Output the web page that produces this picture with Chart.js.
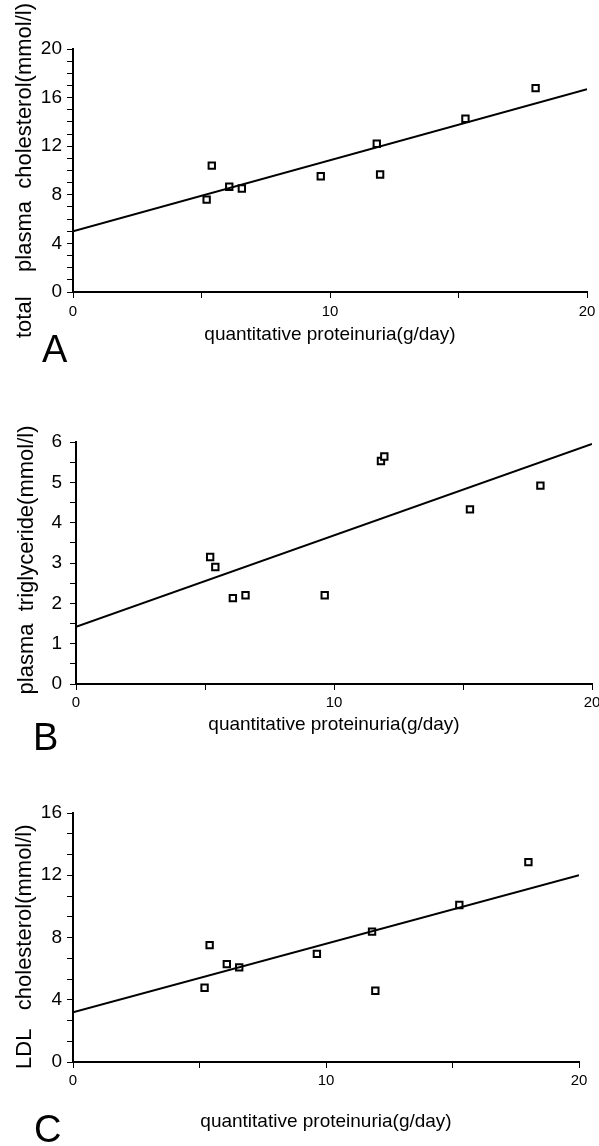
<!DOCTYPE html>
<html lang="en">
<head>
<meta charset="UTF-8">
<title>Proteinuria vs plasma lipids</title>
<script src="https://cdn.jsdelivr.net/npm/chart.js"></script>
<style>
  body { margin: 0; background: #fff; width: 599px; height: 1146px; overflow: hidden; position: relative; }
  canvas { position: absolute; left: 0; }
  .tag { position: absolute; font-family: "Liberation Sans", Arial, sans-serif; font-size: 38px; line-height: 1; color: #000; }
</style>
</head>
<body>
<canvas id="chartA" width="599" height="346" style="top:0px"></canvas>
<canvas id="chartB" width="599" height="356" style="top:380px"></canvas>
<canvas id="chartC" width="599" height="373" style="top:760px"></canvas>
<div class="tag" style="left:42px;top:330px">A</div>
<div class="tag" style="left:33px;top:718px">B</div>
<div class="tag" style="left:34px;top:1110px">C</div>

<script>
// quantitative proteinuria (g/day), same nine patients in every panel
const proteinuria = [5.2, 5.4, 6.08, 6.57, 9.64, 11.82, 11.95, 15.27, 18.0];
// panel values, mmol/l
const totalChol = [7.6, 10.4, 8.66, 8.52, 9.53, 12.2, 9.67, 14.26, 16.78];
const triglyceride = [3.15, 2.9, 2.13, 2.2, 2.2, 5.53, 5.64, 4.33, 4.92];
const ldlChol = [4.77, 7.51, 6.29, 6.08, 6.95, 8.38, 4.58, 10.09, 12.84];

// regression lines, read at x = 0 and x = 20
const fitX = [0, 20];
const fitTotal = [5.0, 16.7];
const fitTrig = [1.42, 5.95];
const fitLdl = [3.2, 12.0];

const xTickLabels = [0, 10, 20];
const xTitle = 'quantitative proteinuria(g/day)';

Chart.defaults.font.family = '"Liberation Sans", Arial, sans-serif';
Chart.defaults.color = '#000';

function makePanel(id, yVals, fitY, o) {
  const pts = proteinuria.map((x, i) => ({ x: x, y: yVals[i] }));
  const line = fitX.map((x, i) => ({ x: x, y: fitY[i] }));
  return new Chart(document.getElementById(id), {
    type: 'scatter',
    data: {
      datasets: [
        { data: line, showLine: true, borderColor: '#000', borderWidth: 2, pointRadius: 0 },
        { data: pts, pointStyle: 'rect', pointRadius: 4.5, borderWidth: 2,
          borderColor: '#000', backgroundColor: '#fff' },
        { data: pts, pointStyle: 'circle', pointRadius: 0.9, borderWidth: 0, backgroundColor: '#000' }
      ]
    },
    options: {
      responsive: false,
      animation: false,
      layout: { padding: { top: o.top, left: 5, right: o.right, bottom: 0 } },
      plugins: { legend: { display: false }, tooltip: { enabled: false } },
      scales: {
        x: {
          type: 'linear', min: 0, max: 20,
          border: { color: '#000', width: 2 },
          grid: { drawOnChartArea: false, drawTicks: true, tickLength: 6, color: '#000' },
          ticks: {
            stepSize: 5, padding: o.xPad, maxRotation: 0, autoSkip: false,
            font: { size: 15 },
            callback: v => xTickLabels.includes(v) ? String(v) : ''
          },
          title: { display: true, text: xTitle, font: { size: 19 }, padding: 0 },
          afterFit: s => { s.height = o.xH; s.paddingLeft = 0; s.paddingRight = 0; }
        },
        y: {
          type: 'linear', min: 0, max: o.yMax,
          border: { color: '#000', width: 2 },
          grid: { drawOnChartArea: false, drawTicks: true, tickLength: 6, color: '#000' },
          ticks: {
            stepSize: o.yStep, padding: o.yPad, autoSkip: false,
            font: { size: 19 },
            callback: v => Math.abs(v / o.every - Math.round(v / o.every)) < 1e-6 ? String(Math.round(v)) : ''
          },
          title: { display: true, text: o.yTitle, font: { size: 22 }, padding: { top: o.tPad, bottom: 0 } },
          afterFit: s => { s.width = o.yW; }
        }
      }
    }
  });
}

makePanel('chartA', totalChol, fitTotal, {
  top: 49, right: 12, xH: 54, xPad: 5, yW: 68, yPad: 5, tPad: 7,
  yMax: 20, yStep: 1, every: 4, yTitle: 'total    plasma  cholesterol(mmol/l)'
});
makePanel('chartB', triglyceride, fitTrig, {
  top: 62, right: 7, xH: 52, xPad: 4, yW: 71, yPad: 8, tPad: 9,
  yMax: 6, yStep: 0.5, every: 1, yTitle: ' plasma  triglyceride(mmol/l)'
});
makePanel('chartC', ldlChol, fitLdl, {
  top: 53, right: 20, xH: 71, xPad: 4, yW: 68, yPad: 5, tPad: 7,
  yMax: 16, yStep: 4 / 3, every: 4, yTitle: 'LDL   cholesterol(mmol/l)   '
});
</script>
</body>
</html>
